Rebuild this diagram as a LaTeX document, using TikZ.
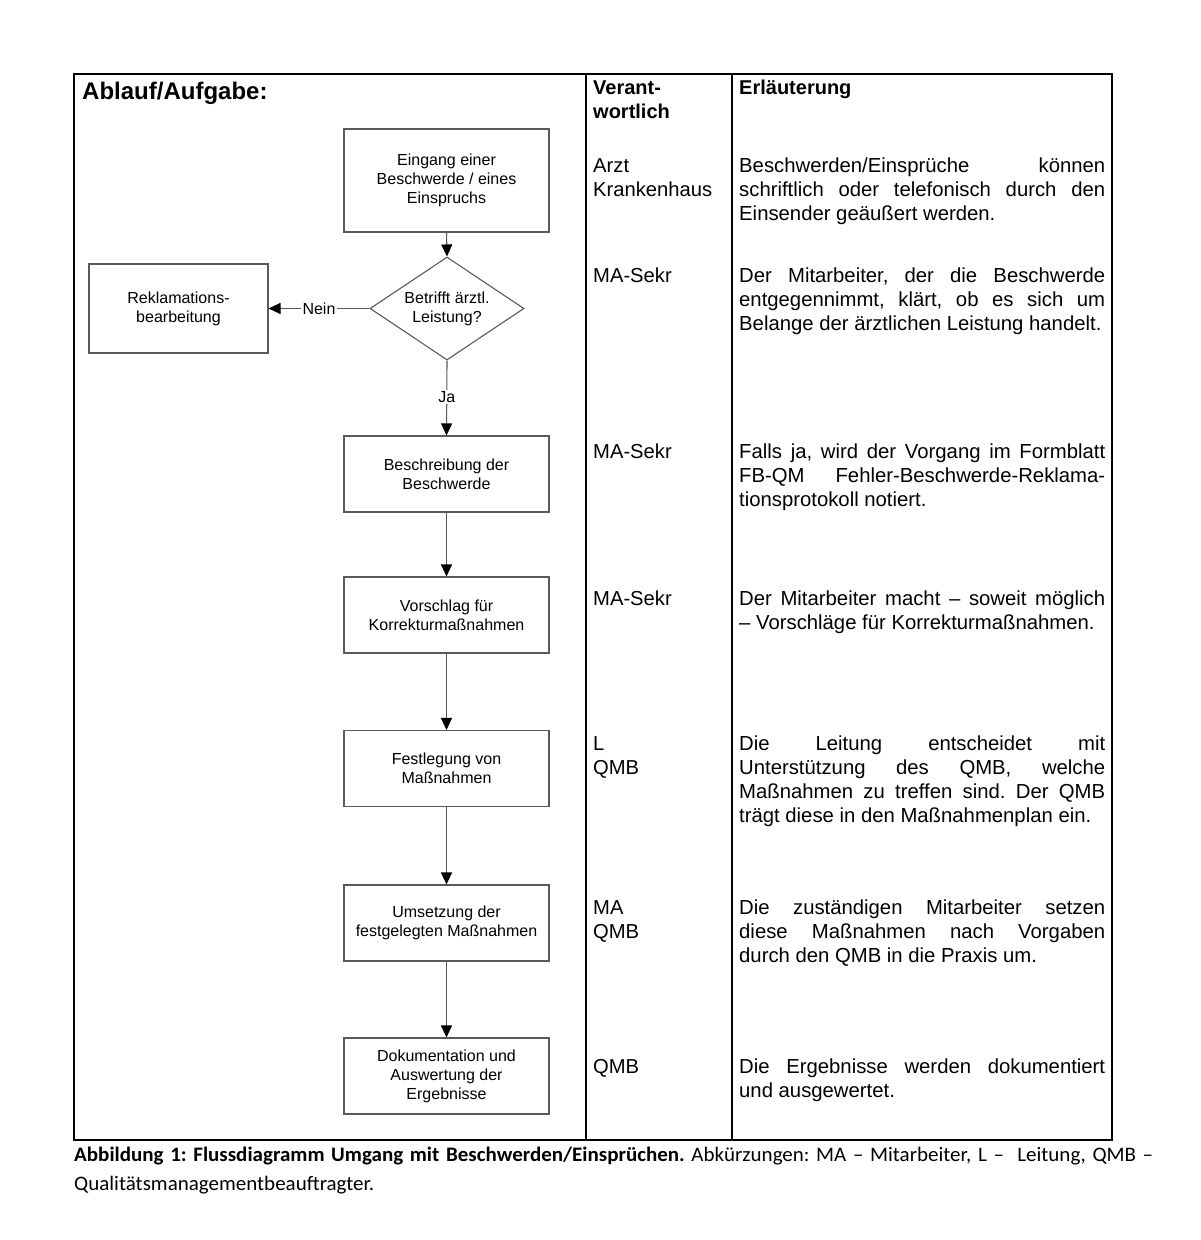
\documentclass[tikz,border=0pt]{standalone}
\usepackage{fontspec}
\setmainfont{Liberation Sans}
\newfontfamily\capfont[Ligatures=TeX, FakeStretch=1.02]{Carlito}
\usetikzlibrary{shapes.geometric,arrows.meta}
\definecolor{boxgray}{HTML}{5A5A5A}
\definecolor{linegray}{HTML}{5A5A5A}
\newcommand{\jl}[1]{\makebox[366pt][s]{#1}}
\frenchspacing
\tikzset{
  tbl/.style={draw=black, line width=1.8pt},
  flowbox/.style={draw=boxgray, line width=1.1pt, minimum width=205pt, minimum height=76pt, inner sep=0pt, align=center, font=\fontsize{16}{19}\selectfont},
  dia/.style={draw=boxgray, line width=1.1pt, diamond, minimum width=154pt, minimum height=103pt, inner sep=0pt},
  flowtext/.style={align=center, inner sep=0pt, font=\fontsize{16}{19}\selectfont},
  arr/.style={draw=linegray, line width=1.1pt, -{Triangle[length=12pt,width=11pt,color=black]}},
  edgelbl/.style={fill=white, inner sep=1.5pt, font=\fontsize{16}{19}\selectfont},
  resp/.style={anchor=base west, inner sep=0pt, text width=135pt, align=left, font=\fontsize{20.2}{24}\selectfont},
  expl/.style={anchor=base west, inner sep=0pt, text width=366pt, align=justify, font=\fontsize{20.3}{24}\selectfont\frenchspacing},
  head/.style={anchor=base west, inner sep=0pt, text width=135pt, align=left, font=\fontsize{20}{24}\selectfont\bfseries},
}
\begin{document}
\begin{tikzpicture}[x=1pt,y=-1pt]
\useasboundingbox[fill=white] (0,0) rectangle (1200,1240);
% table
\coordinate (tl) at (74,74);
\coordinate (br) at (1112,1140);
\draw[tbl] (tl) rectangle (br);
\draw[tbl] (586,74) -- (586,1140);
\draw[tbl] (732,74) -- (732,1140);
% headers
\node[anchor=base west, inner sep=0pt, font=\fontsize{24}{28}\selectfont\bfseries] (h1) at (82,99) {Ablauf/Aufgabe:};
\node[head] (h2) at (593,94) {Verant-\\wortlich};
\node[head] (h3) at (739,94) {Erläuterung};
% flowchart
\node[flowbox, minimum height=103pt] (b1) at (446.5,180.5) {Eingang einer\\Beschwerde / eines\\Einspruchs};
\node[dia] (d) at (447,308.5) {};
\node[flowtext] (dt) at (d.center) {Betrifft ärztl.\\Leistung?};
\node[flowbox, minimum width=179pt, minimum height=89pt] (rk) at (178.5,308.5) {Reklamations-\\bearbeitung};
\node[flowbox] (b2) at (446.5,474) {Beschreibung der\\Beschwerde};
\node[flowbox] (b3) at (446.5,615) {Vorschlag für\\Korrekturmaßnahmen};
\node[flowbox] (b4) at (446.5,768.5) {Festlegung von\\Maßnahmen};
\node[flowbox] (b5) at (446.5,923) {Umsetzung der\\festgelegten Maßnahmen};
\node[flowbox] (b6) at (446.5,1076) {Dokumentation und\\Auswertung der\\Ergebnisse};
\draw[arr] (b1.south) -- (d.north);
\draw[arr] (d.west) -- node[edgelbl] (nein) {Nein} (rk.east);
\draw[arr] (d.south) -- node[edgelbl, pos=0.49] (ja) {Ja} (b2.north);
\draw[arr] (b2.south) -- (b3.north);
\draw[arr] (b3.south) -- (b4.north);
\draw[arr] (b4.south) -- (b5.north);
\draw[arr] (b5.south) -- (b6.north);
% responsible
\node[resp] (r1) at (593,172) {Arzt\\Krankenhaus};
\node[resp] (r2) at (593,282) {MA-Sekr};
\node[resp] (r3) at (593,458) {MA-Sekr};
\node[resp] (r4) at (593,605) {MA-Sekr};
\node[resp] (r5) at (593,750) {L\\QMB};
\node[resp] (r6) at (593,914) {MA\\QMB};
\node[resp] (r7) at (593,1073) {QMB};
% explanations
\node[expl] (e1) at (739,172) {\jl{Beschwerden/Einsprüche können}\\\jl{schriftlich oder telefonisch durch den}\\Einsender geäußert werden.};
\node[expl] (e2) at (739,282) {\jl{Der Mitarbeiter, der die Beschwerde}\\\jl{entgegennimmt, klärt, ob es sich um}\\Belange der ärztlichen Leistung handelt.};
\node[expl] (e3) at (739,458) {\jl{Falls ja, wird der Vorgang im Formblatt}\\\jl{FB-QM Fehler-Beschwerde-Reklama-}\\tionsprotokoll notiert.};
\node[expl] (e4) at (739,605) {\jl{Der Mitarbeiter macht – soweit möglich}\\– Vorschläge für Korrekturmaßnahmen.};
\node[expl] (e5) at (739,750) {\jl{Die Leitung entscheidet mit}\\\jl{Unterstützung des QMB, welche}\\\jl{Maßnahmen zu treffen sind. Der QMB}\\trägt diese in den Maßnahmenplan ein.};
\node[expl] (e6) at (739,914) {\jl{Die zuständigen Mitarbeiter setzen}\\\jl{diese Maßnahmen nach Vorgaben}\\durch den QMB in die Praxis um.};
\node[expl] (e7) at (739,1073) {\jl{Die Ergebnisse werden dokumentiert}\\und ausgewertet.};
% caption
\node[anchor=base west, inner sep=0pt, text width=1110pt, align=justify, font=\capfont\fontsize{20.6}{29}\selectfont] (cap) at (74,1161) {\makebox[1079pt][s]{{\bfseries Abbildung 1: Flussdiagramm Umgang mit Beschwerden/Einsprüchen.} Abkürzungen: MA – Mitarbeiter, L –\ \ Leitung, QMB –}\\Qualitätsmanagementbeauftragter.};
\end{tikzpicture}
\end{document}
